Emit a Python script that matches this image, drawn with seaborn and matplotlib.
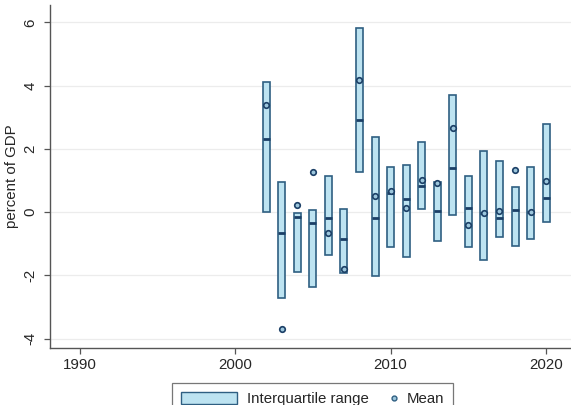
import matplotlib
matplotlib.use("Agg")
import matplotlib.pyplot as plt
import seaborn as sns
import pandas as pd
from matplotlib.patches import Patch
from matplotlib.lines import Line2D
from matplotlib.legend_handler import HandlerBase

years = [2002, 2003, 2004, 2005, 2006, 2007, 2008, 2009, 2010, 2011,
         2012, 2013, 2014, 2015, 2016, 2017, 2018, 2019, 2020]
q1 = [0.00, -2.71, -1.89, -2.38, -1.36, -1.94, 1.28, -2.03, -1.10, -1.41,
      0.09, -0.91, -0.09, -1.09, -1.52, -0.80, -1.07, -0.86, -0.31]
q3 = [4.12, 0.94, -0.02, 0.08, 1.14, 0.10, 5.81, 2.38, 1.43, 1.48,
      2.22, 0.94, 3.70, 1.14, 1.92, 1.60, 0.80, 1.41, 2.78]
median = [2.30, -0.65, -0.16, -0.36, -0.18, -0.86, 2.91, -0.20, 0.61, 0.42,
          0.82, 0.03, 1.40, 0.12, -0.04, -0.18, 0.06, 0.00, 0.43]
mean = [3.39, -3.70, 0.21, 1.27, -0.67, -1.81, 4.18, 0.51, 0.67, 0.12,
        1.01, 0.92, 2.65, -0.42, -0.04, 0.03, 1.33, 0.01, 0.98]
xticks = [1990, 2000, 2010, 2020]
yticks = [-4, -2, 0, 2, 4, 6]

df = pd.DataFrame({"year": years, "q1": q1, "q3": q3, "median": median, "mean": mean})

sns.set_style("white")
plt.rcParams["font.family"] = ["Liberation Sans", "DejaVu Sans"]

fill = "#bde3f1"
edge = "#2f5f82"
dark = "#1b3f66"
fs = 10.8

fig = plt.figure(figsize=(5.71, 4.05), dpi=100)
ax = fig.add_axes([50/571, 1 - 348/405, 1 - 50/571, 343/405])

w = 0.45
ax.bar(df["year"], df["q3"] - df["q1"], bottom=df["q1"], width=w,
       color=fill, edgecolor=edge, linewidth=1.2, zorder=3)
ax.hlines(df["median"], df["year"] - w/2, df["year"] + w/2,
          colors=dark, linewidth=2.0, zorder=4)
sns.scatterplot(data=df, x="year", y="mean", ax=ax, marker="o", s=16,
                facecolor="#9cc6dc", edgecolor=dark, linewidth=1.2,
                zorder=5, legend=False)

ax.set_xlim(1988.1, 2021.6)
ax.set_ylim(-4.3, 6.55)
ax.set_xticks(xticks)
ax.set_yticks(yticks)
ax.set_xticklabels([str(x) for x in xticks], fontsize=fs)
ax.set_yticklabels([str(y) for y in yticks], fontsize=fs, rotation=90, va="center")
ax.set_xlabel("")
ax.set_ylabel("percent of GDP", fontsize=fs, labelpad=3)
ax.yaxis.grid(True, color="#ececec", linewidth=0.9, zorder=0)
ax.xaxis.grid(False)
for s in ["top", "right"]:
    ax.spines[s].set_visible(False)
for s in ["left", "bottom"]:
    ax.spines[s].set_color("#555555")
    ax.spines[s].set_linewidth(1.0)
ax.tick_params(axis="both", which="both", direction="out", length=4, width=0.9,
               color="#555555", left=True, bottom=True, pad=3)
ax.tick_params(axis="y", pad=5)


class MeanHandler(HandlerBase):
    def create_artists(self, legend, orig_handle, xdescent, ydescent,
                       width, height, fontsize, trans):
        ln = Line2D([width - xdescent - 1.5], [height / 2 - ydescent],
                    marker="o", linestyle="none", markersize=3.5,
                    markerfacecolor="#9cc6dc", markeredgecolor=edge,
                    markeredgewidth=1.0)
        ln.set_transform(trans)
        return [ln]


mean_handle = Line2D([], [], marker="o", linestyle="none")
handles = [Patch(facecolor=fill, edgecolor=edge, linewidth=1.0), mean_handle]
leg = fig.legend(handles, ["Interquartile range", "Mean"], ncol=2,
                 loc="upper center", bbox_to_anchor=(312.5/571, 1 - 382.5/405),
                 frameon=True, fancybox=False, fontsize=fs,
                 handlelength=3.73, handleheight=0.95, columnspacing=-1.93,
                 handletextpad=0.7, borderpad=0.6, borderaxespad=0,
                 handler_map={mean_handle: MeanHandler()})
leg.get_frame().set_edgecolor("#555555")
leg.get_frame().set_linewidth(0.9)

fig.savefig("out.png", dpi=100)
